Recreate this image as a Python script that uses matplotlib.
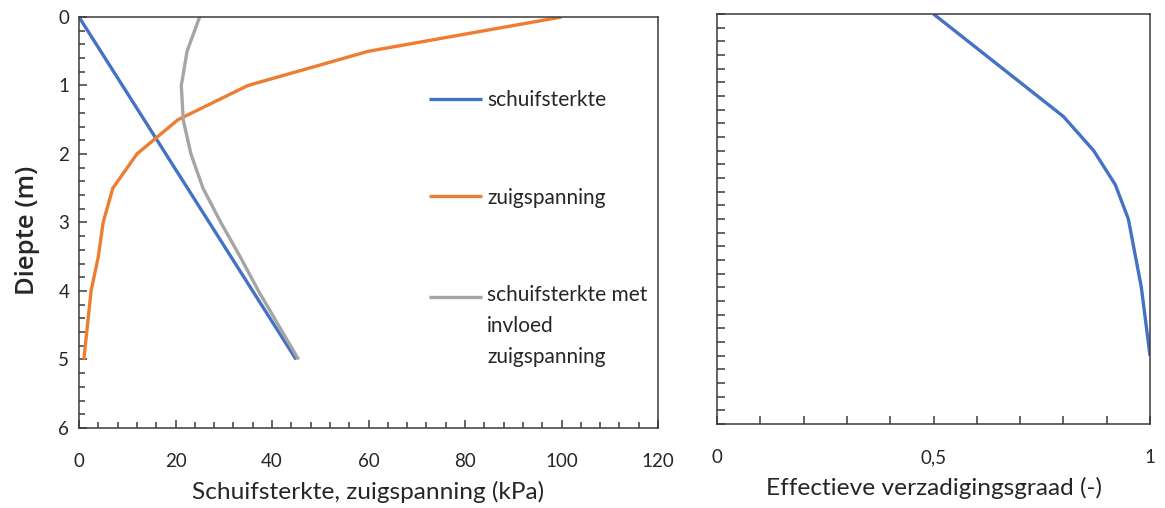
import matplotlib
matplotlib.use("Agg")
import matplotlib.pyplot as plt
from matplotlib.ticker import FixedLocator, MultipleLocator, NullFormatter
from matplotlib.legend_handler import HandlerLine2D

plt.rcParams['font.family'] = ['Lato', 'DejaVu Sans']

# depth (m)
depth = [0, 0.5, 1.0, 1.5, 2.0, 2.5, 3.0, 3.5, 4.0, 5.0]
# schuifsterkte (kPa)
schuifsterkte = [0, 4.5, 9, 13.5, 18, 22.5, 27, 31.5, 36, 45]
# zuigspanning (kPa)
zuigspanning = [100, 60, 35, 20.5, 12, 7, 5, 4, 2.5, 1]
# schuifsterkte met invloed zuigspanning (kPa)
schuif_zuig = [25, 22.4, 21.2, 21.6, 23.2, 25.7, 29.4, 33.4, 37.2, 45.5]
# effectieve verzadigingsgraad (-)
verzadiging = [0.5, 0.6, 0.7, 0.8, 0.87, 0.92, 0.95, 0.965, 0.98, 1.0]

labels = ['schuifsterkte', 'zuigspanning', 'schuifsterkte met\ninvloed\nzuigspanning']
left_xticks = [0, 20, 40, 60, 80, 100, 120]
left_yticks = [0, 1, 2, 3, 4, 5, 6]
right_xticks = [0, 0.5, 1]
right_xticklabels = ['0', '0,5', '1']

BLUE = '#4472C4'
ORANGE = '#ED7D31'
GRAY = '#A5A5A5'
SPINE = '#3a3a3a'
TXT = '#262626'
FS = 13.5
XLAB_FS = 17.6
LEG_FS = 15
LINESP = 1.68
LW = 2.4


class FirstLineHandler(HandlerLine2D):
    """Align the legend key with the first line of a multi-line label."""
    def __init__(self, nlines, line_pts, **kw):
        super().__init__(**kw)
        self.shift = (nlines - 1) / 2.0 * line_pts

    def create_artists(self, legend, orig_handle, xdescent, ydescent,
                       width, height, fontsize, trans):
        arts = super().create_artists(legend, orig_handle, xdescent, ydescent,
                                      width, height, fontsize, trans)
        for a in arts:
            a.set_ydata([y + self.shift for y in a.get_ydata()])
        return arts


fig = plt.figure(figsize=(11.65, 5.08), dpi=100)
ax1 = fig.add_axes([79/1165, 80/508, 579/1165, 411/508])
ax2 = fig.add_axes([717/1165, 84/508, 433/1165, 410/508])

l1, = ax1.plot(schuifsterkte, depth, color=BLUE, lw=LW, solid_capstyle='butt')
l2, = ax1.plot(zuigspanning, depth, color=ORANGE, lw=LW, solid_capstyle='butt')
l3, = ax1.plot(schuif_zuig, depth, color=GRAY, lw=LW, solid_capstyle='butt')
ax1.set_xlim(0, 120)
ax1.set_ylim(6, 0)
ax1.xaxis.set_major_locator(FixedLocator(left_xticks))
ax1.xaxis.set_minor_locator(MultipleLocator(4))
ax1.yaxis.set_major_locator(FixedLocator(left_yticks))
ax1.yaxis.set_minor_locator(MultipleLocator(0.2))
ax1.set_xticklabels([str(v) for v in left_xticks])
ax1.set_yticklabels([str(v) for v in left_yticks])
ax1.tick_params(which='major', direction='in', length=6, width=1.1, color=SPINE,
                labelsize=FS, labelcolor=TXT)
ax1.tick_params(which='minor', direction='in', length=4, width=1.1, color=SPINE)
ax1.tick_params(axis='x', which='major', pad=18)
ax1.tick_params(axis='y', which='major', pad=7)
ax1.set_xlabel('Schuifsterkte, zuigspanning (kPa)', fontsize=XLAB_FS, color=TXT, labelpad=8)
ax1.set_ylabel('Diepte (m)', fontsize=18.5, color=TXT, labelpad=13,
               family=['Open Sans', 'DejaVu Sans'], weight='semibold')
ax1.yaxis.label.set_y(0.48)

line_pts = 21.2
handler3 = FirstLineHandler(3, line_pts)
leg = ax1.legend([l1, l2, l3], labels, loc='upper left', bbox_to_anchor=(0.59, 0.842),
                 frameon=False, fontsize=LEG_FS, handlelength=2.55, handletextpad=0.25,
                 labelspacing=3.72, borderaxespad=0,
                 handler_map={l3: handler3})
for t in leg.get_texts():
    t.set_linespacing(LINESP)
    t.set_color(TXT)

ax2.plot(verzadiging, depth, color=BLUE, lw=LW, solid_capstyle='butt')
ax2.set_xlim(0, 1)
ax2.set_ylim(6, 0)
ax2.xaxis.set_major_locator(FixedLocator(right_xticks))
ax2.xaxis.set_minor_locator(MultipleLocator(0.1))
ax2.set_xticklabels(right_xticklabels)
ax2.yaxis.set_major_locator(MultipleLocator(0.2))
ax2.yaxis.set_major_formatter(NullFormatter())
ax2.tick_params(which='both', direction='in', length=5.5, width=1.1, color=SPINE,
                labelsize=FS, labelcolor=TXT)
ax2.tick_params(axis='x', which='major', pad=18)
ax2.set_xlabel('Effectieve verzadigingsgraad (-)', fontsize=XLAB_FS, color=TXT, labelpad=8)

for ax in (ax1, ax2):
    for s in ax.spines.values():
        s.set_color(SPINE)
        s.set_linewidth(1.1)

fig.savefig('out.png', dpi=100)
